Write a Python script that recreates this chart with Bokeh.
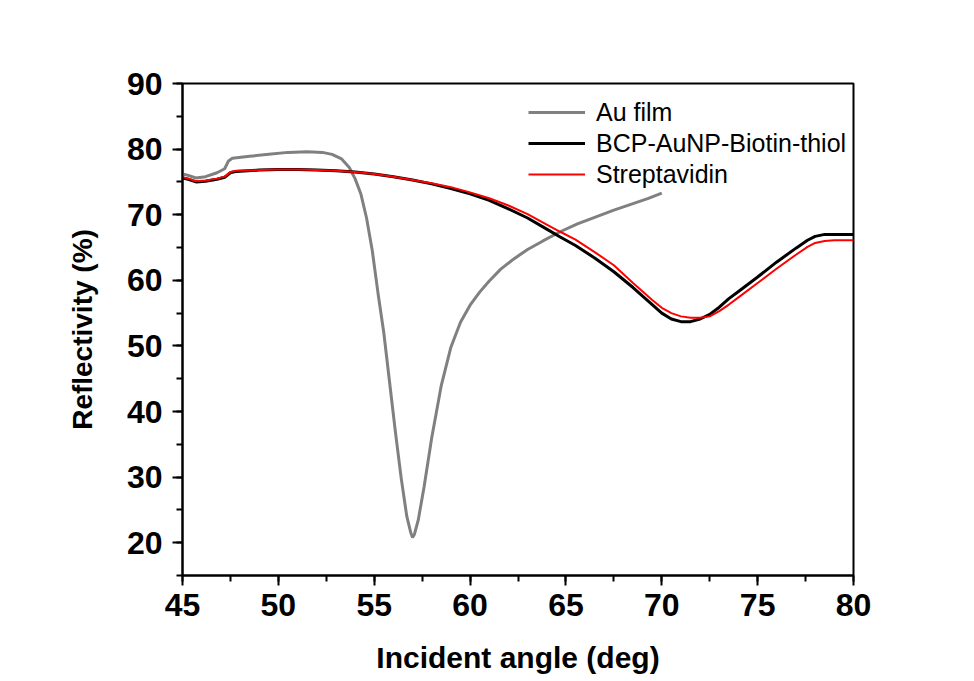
from bokeh.plotting import figure
from bokeh.models import FixedTicker, Legend, LegendItem
from bokeh.embed import file_html
from bokeh.resources import INLINE

# ---- data ----
angle_au = [45.0, 45.3, 45.7, 46.2, 46.8, 47.2, 47.4, 47.6, 48.5, 49.5, 50.5, 51.5,
            52.3, 52.8, 53.3, 53.7, 54.0, 54.3, 54.6, 54.9, 55.2, 55.5, 55.8, 56.1,
            56.4, 56.7, 56.9, 57.0, 57.1, 57.3, 57.6, 58.0, 58.5, 59.0, 59.5, 60.0,
            60.5, 61.0, 61.6, 62.3, 63.0, 63.8, 64.7, 65.6, 66.5, 67.5, 68.5, 69.3, 70.0]
refl_au = [76.2, 76.0, 75.6, 75.8, 76.4, 77.0, 78.2, 78.6, 78.9, 79.2, 79.5, 79.6,
           79.5, 79.2, 78.5, 77.2, 75.5, 73.2, 69.5, 64.5, 58.0, 52.0, 44.5, 37.0,
           30.0, 24.0, 21.6, 20.8, 21.3, 23.5, 28.5, 36.0, 44.0, 49.8, 53.6, 56.2,
           58.2, 59.9, 61.7, 63.3, 64.7, 66.0, 67.4, 68.6, 69.6, 70.7, 71.7, 72.5, 73.3]

angle_bcp = [45.0, 45.3, 45.7, 46.2, 46.8, 47.2, 47.5, 47.8, 49.0, 50.0, 51.0, 52.0,
             53.0, 54.0, 55.0, 56.0, 57.0, 58.0, 59.0, 60.0, 61.0, 62.0, 63.0, 64.0,
             64.7, 65.5, 66.5, 67.5, 68.5, 69.5, 70.0, 70.5, 71.0, 71.5, 72.0, 72.5,
             73.0, 73.5, 74.0, 75.0, 76.0, 77.0, 77.6, 78.0, 78.5, 79.0, 80.0]
refl_bcp = [75.6, 75.4, 75.0, 75.1, 75.4, 75.7, 76.4, 76.6, 76.8, 76.9, 76.9, 76.8,
            76.7, 76.5, 76.2, 75.8, 75.3, 74.7, 74.0, 73.2, 72.2, 70.9, 69.5, 67.8,
            66.6, 65.3, 63.4, 61.3, 58.9, 56.3, 55.0, 54.1, 53.7, 53.7, 54.1, 54.8,
            55.9, 57.2, 58.3, 60.5, 62.8, 64.9, 66.1, 66.7, 67.0, 67.0, 67.0]

angle_strep = angle_bcp
refl_strep = [75.7, 75.5, 75.1, 75.2, 75.5, 75.8, 76.5, 76.7, 76.8, 76.9, 76.9, 76.8,
              76.7, 76.5, 76.2, 75.8, 75.3, 74.8, 74.2, 73.4, 72.5, 71.4, 70.1, 68.5,
              67.4, 66.2, 64.3, 62.3, 59.6, 57.0, 55.8, 55.0, 54.5, 54.3, 54.3, 54.5,
              55.3, 56.3, 57.4, 59.6, 61.8, 63.9, 65.1, 65.7, 66.0, 66.1, 66.1]

x_major = [45, 50, 55, 60, 65, 70, 75, 80]
x_minor = [45, 47.5, 50, 52.5, 55, 57.5, 60, 62.5, 65, 67.5, 70, 72.5, 75, 77.5, 80]
y_major = [20, 30, 40, 50, 60, 70, 80, 90]
y_minor = [15, 20, 25, 30, 35, 40, 45, 50, 55, 60, 65, 70, 75, 80, 85, 90]

labels = ["Au film", "BCP-AuNP-Biotin-thiol", "Streptavidin"]

FONT = "Liberation Sans"

p = figure(width=940, height=676, x_range=(45, 80), y_range=(15, 90),
           output_backend="svg", toolbar_location=None,
           min_border_left=182, min_border_right=87,
           min_border_top=83, min_border_bottom=101)

p.grid.visible = False
p.outline_line_color = "black"
p.outline_line_width = 2
p.background_fill_color = "white"
p.border_fill_color = "white"

r_au = p.line(angle_au, refl_au, line_color="#808080", line_width=3)
r_bcp = p.line(angle_bcp, refl_bcp, line_color="black", line_width=3)
r_st = p.line(angle_strep, refl_strep, line_color="#ff0000", line_width=2)

for ax, maj, mnr in ((p.xaxis[0], x_major, x_minor), (p.yaxis[0], y_major, y_minor)):
    ax.ticker = FixedTicker(ticks=maj, minor_ticks=mnr)
    ax.axis_line_width = 2
    ax.major_tick_line_width = 2
    ax.minor_tick_line_width = 2
    ax.major_tick_out = 10
    ax.major_tick_in = 0
    ax.minor_tick_out = 6
    ax.minor_tick_in = 0
    ax.major_label_text_font = FONT
    ax.major_label_text_font_style = "bold"
    ax.major_label_text_font_size = "32px"
    ax.major_label_text_color = "black"
    ax.axis_label_text_font = FONT
    ax.axis_label_text_font_style = "bold"
    ax.axis_label_text_color = "black"

p.xaxis.axis_label = "Incident angle (deg)"
p.yaxis.axis_label = "Reflectivity (%)"
p.xaxis.axis_label_text_font_size = "30px"
p.yaxis.axis_label_text_font_size = "28px"
p.xaxis.major_label_standoff = 8
p.yaxis.major_label_standoff = 10
p.xaxis.axis_label_standoff = 22
p.yaxis.axis_label_standoff = 26

legend = Legend(items=[LegendItem(label=labels[0], renderers=[r_au]),
                       LegendItem(label=labels[1], renderers=[r_bcp]),
                       LegendItem(label=labels[2], renderers=[r_st])],
                location=(346, 386), margin=0, padding=5, spacing=1,
                glyph_width=57, glyph_height=30, label_height=30,
                label_standoff=11, border_line_color=None,
                background_fill_alpha=0,
                label_text_font=FONT, label_text_font_size="25px",
                label_text_color="black")
p.add_layout(legend, "center")

open("out.html", "w").write(file_html(p, INLINE))
